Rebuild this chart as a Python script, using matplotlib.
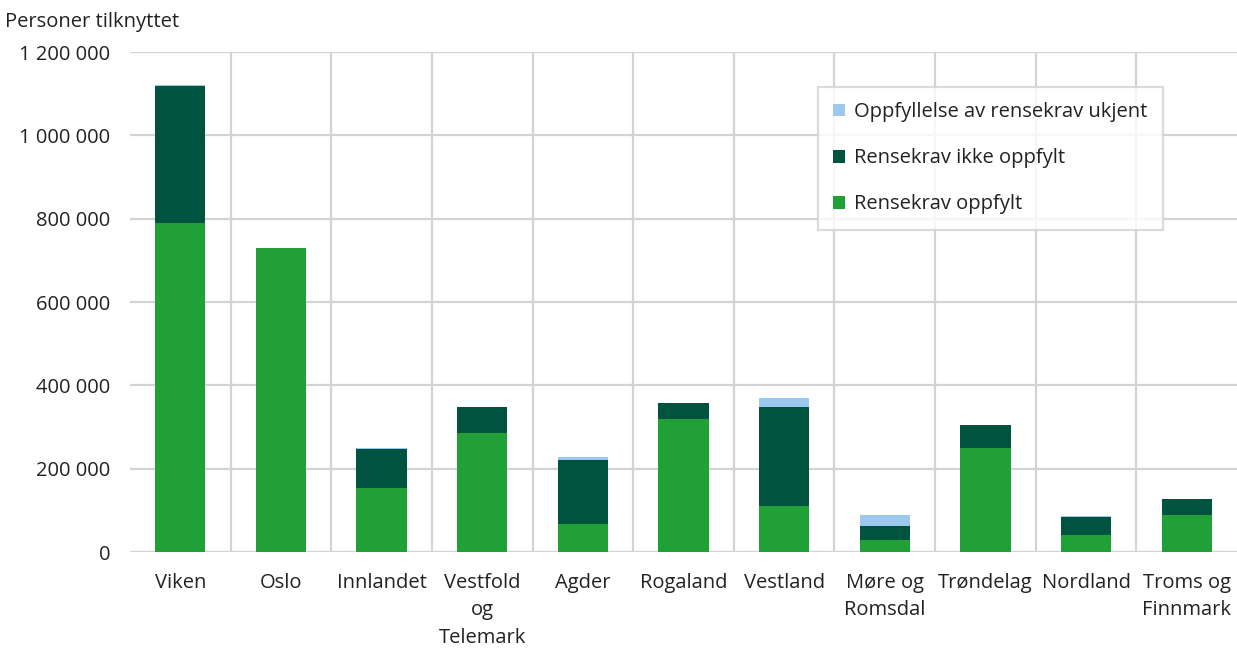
import numpy as np
import matplotlib.pyplot as plt

plt.rcParams['font.family'] = ['Open Sans', 'DejaVu Sans']

# Fylker og verdier (personer tilknyttet)
fylker = ['Viken', 'Oslo', 'Innlandet', 'Vestfold\nog\nTelemark', 'Agder', 'Rogaland',
          'Vestland', 'Møre og\nRomsdal', 'Trøndelag', 'Nordland', 'Troms og\nFinnmark']
oppfylt = [790000, 729000, 154000, 286000, 67000, 319000, 110000, 30000, 249000, 42000, 89000]
ikke_oppfylt = [328000, 0, 93000, 61000, 154000, 38000, 237000, 32000, 55000, 42000, 39000]
ukjent = [3000, 0, 3000, 0, 7000, 0, 22000, 27000, 0, 2000, 0]

c_oppfylt = '#21a038'
c_ikke = '#00533f'
c_ukjent = '#9bc8ec'
fs = 14.5

fig = plt.figure(figsize=(12.37, 6.49), dpi=100)
ax = fig.add_axes([130/1237, 1 - 552/649, 1107/1237, 500/649])

x = np.arange(len(fylker))
b1 = ax.bar(x, oppfylt, width=0.5, color=c_oppfylt, zorder=3)
b2 = ax.bar(x, ikke_oppfylt, width=0.5, bottom=oppfylt, color=c_ikke, zorder=3)
bunn = np.array(oppfylt) + np.array(ikke_oppfylt)
b3 = ax.bar(x, ukjent, width=0.5, bottom=bunn, color=c_ukjent, zorder=3)

ax.set_xlim(-0.5, len(fylker) - 0.5)
ax.set_ylim(0, 1200000)
yt = np.arange(0, 1200001, 200000)
ax.set_yticks(yt)
ax.set_yticklabels(['{:,}'.format(v).replace(',', ' ') for v in yt], fontsize=fs)
ax.set_xticks(x)
ax.set_xticklabels(fylker, fontsize=fs, va='top', linespacing=1.5)

# rutenett: vannrett ved verdiene, loddrett mellom kategoriene
for v in yt:
    ax.axhline(v, color='#d3d3d3', lw=1.6, zorder=1)
for k in np.arange(0.5, len(fylker) - 0.5, 1):
    ax.axvline(k, color='#d3d3d3', lw=1.6, zorder=1)

for s in ax.spines.values():
    s.set_visible(False)
ax.tick_params(axis='both', length=0, colors='#222222')
ax.tick_params(axis='y', pad=14)
ax.tick_params(axis='x', pad=15)

fig.text(5/1237, 1 - 22/649, 'Personer tilknyttet', fontsize=fs, va='center', color='#222222')

leg = ax.legend([b3, b2, b1], ['Oppfyllelse av rensekrav ukjent', 'Rensekrav ikke oppfylt', 'Rensekrav oppfylt'],
                loc='upper left', bbox_to_anchor=((818 - 130)/1107, (552 - 87)/500),
                fontsize=fs, frameon=True, fancybox=False, handlelength=0.6, handleheight=0.6,
                handletextpad=0.45, labelspacing=1.3, borderpad=0.75, borderaxespad=0)
leg.get_frame().set_edgecolor('#d3d3d3')
leg.get_frame().set_linewidth(1.6)
for t in leg.get_texts():
    t.set_color('#222222')

fig.savefig('out.png', dpi=100)
